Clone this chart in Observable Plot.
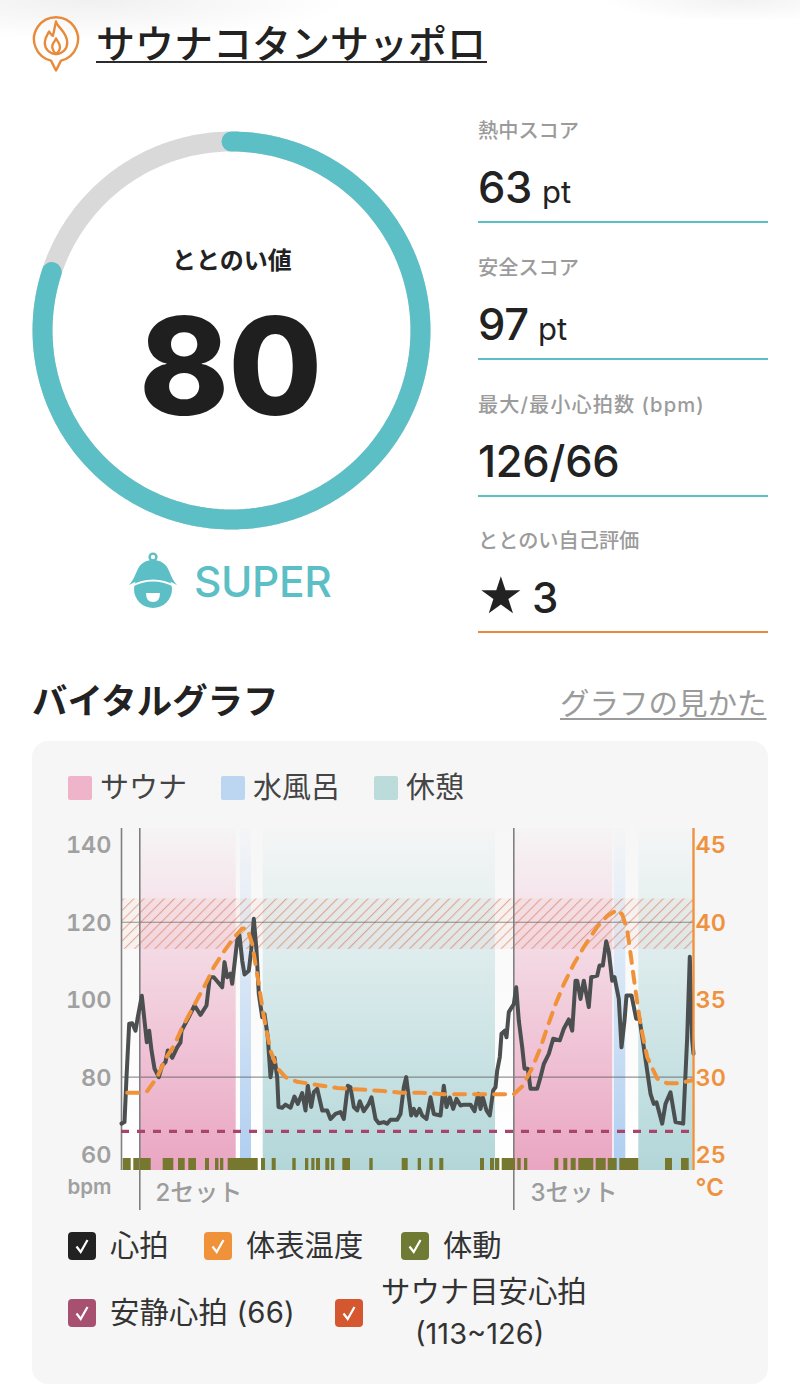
<!DOCTYPE html>
<html lang="ja">
<head>
<meta charset="utf-8">
<script src="https://cdn.jsdelivr.net/npm/d3@7"></script>
<script src="https://cdn.jsdelivr.net/npm/@observablehq/plot@0.6"></script>
<style>
html,body{margin:0;padding:0;background:#fff}
body{position:relative;width:800px;height:1390px;overflow:hidden;font-family:Inter,"Noto Sans CJK JP",sans-serif;color:#222}
.t{position:absolute;white-space:nowrap}
#stage svg{font-family:Inter,"Noto Sans CJK JP",sans-serif}
</style>
</head>
<body>
<div id="stage"></div>
<script>
// ---------- data ----------
const ringScore = 80, ringMax = 100;
const stats = [
  ["熱中スコア", "63", "pt", "#5cbfc5"],
  ["安全スコア", "97", "pt", "#5cbfc5"],
  ["最大/最小心拍数 (bpm)", "126/66", "", "#5cbfc5"],
  ["ととのい自己評価", "3", "", "#e98a3a"]
];
const leftTicks = [60, 80, 100, 120, 140];
const gridValues = [80, 120];
const restHR = 66, zoneLow = 113, zoneHigh = 126;
const setStarts = [{t: 18.3, label: "2セット", lx: 34}, {t: 392.3, label: "3セット", lx: 409}];
const sauna = [[19, 114.7], [392.3, 491.3]];
const cold = [[119, 130], [492.7, 504.3]];
const rest = [[0, 1], [141.7, 374], [517.3, 571.5]];
const hrT = [0,3,5,7.7,10.7,14,16.3,20.3,23,25.3,27.7,30,33,37.3,40.7,44,46.3,50.7,55.7,59,60,67.3,73,79,85,88.3,92.3,100.7,103,105.7,109,110.7,115.7,118,120.7,123,127.3,129.7,132.3,135,137.3,140.7,143,146.3,149,151.7,153,155.7,157,160.7,164,169,173,176.3,180.7,184,186.3,189.7,192.3,195.7,200.7,205.7,209,214,219,222.3,226.3,229,232.3,235.7,238.3,242.3,247.3,250,254,257.3,262.3,265.7,269,275.7,279,282.3,284.7,287.3,289.7,292.3,294.7,298,300.7,305,309,312.3,319,322.3,325,328.3,331.7,335,339,342.3,349,353,356.7,359,361.3,365,368.3,371.7,374,375.7,378.3,380,383.3,385,387.3,392.3,394.7,397.3,400.7,403,406.3,409,415.7,419,422.3,427.3,431.7,438.3,442.3,447.3,450.7,454,455.7,459,462.3,467.3,469.7,475.7,478,481.3,484.7,487.3,490.7,493,497.3,500,503,505,510,514.7,518,522.3,529,532.3,535,540.7,544,549,554,561.7,565.7,568.3,570.7,572];
const hrV = [68,68.4,80,93.8,93.9,92,95.5,101,94.6,89,92,86.9,82.2,80,83,83.9,86.9,85,87.7,89,92,95.5,98.5,96.1,98.5,105.8,105.8,103.2,109.7,105.8,106.7,104.1,115.3,116.6,110.1,106.5,107.5,112.7,120.9,112.7,101.5,95.5,96.3,90.3,80,84.3,85,80,72.3,72.1,72.9,72.1,75,73.1,75.9,71.4,77.8,72.3,76.1,77,71.4,71.4,69.2,70.5,71,69.2,77.8,77.4,72.3,71.4,73.8,71.2,73.1,74.8,69.2,68.1,68.4,68,69,69,70.5,77.4,80,74.8,70.1,71.8,70.1,71.8,70.1,69.2,74.8,70.5,70.1,77.8,72.3,74.7,71.8,74.4,72.7,72.9,72.9,71.2,75.7,71.8,74.8,71.4,70.1,76.6,77.4,81.7,85.2,91.2,92,90.3,96.8,98.9,103.2,94.6,87.7,82.2,82.2,77,77,80,83.4,86,89.9,89.5,92.5,94.9,92,104.9,104.9,100.2,104.9,98.1,105.8,106.2,108.8,108.8,115.1,112.3,104.9,105.8,100.2,87.7,94.6,101.1,101.1,95.1,95.1,87.7,75.7,73.1,73.5,68,73.1,76.1,68.4,68,90.3,111.1,89.5,86];
const tempT = [5.7,17.3,25.7,35.7,44,52.3,60.7,72.3,84,92.3,102.3,112.3,120.7,125.7,130.7,137.3,142.3,149,155.7,164,175.7,195.7,215.7,239,262.3,279,299,322.3,349,392.3,400.7,410.7,419,425.7,434,442.3,452.3,462.3,475.7,485.7,495.7,500.7,505.7,509,514,519,525.7,535.7,545.7,557.3,570.7];
const tempV = [29,29,29.1,30,31.2,32,33.2,34.6,36,37.1,38.1,39,39.6,39.6,38.6,36,33.9,31.7,30.6,30,29.7,29.5,29.3,29.2,29.1,29,29,28.9,28.9,28.9,29.4,30.6,31.9,33.2,34.7,36,37.3,38.4,39.7,40.4,40.8,40.5,39.5,38,35.6,33.4,31.3,29.9,29.6,29.6,29.8];
const moveSpans = [[1.7,9.7],[12.3,18],[19,29.7],[41.7,52.3],[57,63.7],[67.3,75],[84,88],[94,97.5],[99,102.3],[106.7,136.7],[140,144],[150.7,154.7],[171.3,174.7],[184,187.3],[190.3,193.5],[195,199],[204.3,208.3],[210,213.3],[221.3,229],[248.3,251.7],[280.7,286.7],[296.7,300],[308.3,311.7],[318.3,322.3],[359,363],[369,373],[374,378.3],[380.7,394],[396.3,399.7],[403,406.3],[433.3,437.3],[442.3,446.3],[449.7,454.7],[457.3,472.3],[474.7,484.7],[486.7,495.7],[498.3,517.3],[544,551],[560,567.7]];
const topLegend = [["サウナ", "#efb4ca", 68, 100], ["水風呂", "#bcd6f1", 221, 253], ["休憩", "#bcdcdc", 374, 406]];
const checks = [
  ["心拍", "#222222", 68, 110, 1246],
  ["体表温度", "#f0923a", 204, 246, 1246],
  ["体動", "#6f7a32", 401, 443, 1246],
  ["安静心拍 (66)", "#a8506f", 68, 110, 1313]
];
// ---------- helpers ----------
const stage = document.getElementById("stage");
const FONT_CJK = 'Inter,"Noto Sans CJK JP",sans-serif';
function txt(s, x, cy, size, color, weight, extra) {
  const d = document.createElement("div");
  d.className = "t";
  d.textContent = s;
  d.style.cssText = `left:${x}px;top:${cy - size}px;line-height:${size * 2}px;font-size:${size}px;color:${color};font-weight:${weight};${extra || ""}`;
  stage.appendChild(d);
  return d;
}
function rawSvg(markup) {
  const w = document.createElement("div");
  w.innerHTML = markup;
  stage.appendChild(w.firstElementChild);
}
function checkBox(color, x, cy) {
  rawSvg(`<svg style="position:absolute;left:${x}px;top:${cy - 14}px" width="28" height="28"><rect width="28" height="28" rx="4" fill="${color}"/><path d="M8.5 14.5 L12.7 20 L19.5 8" fill="none" stroke="#fff" stroke-width="2.2"/></svg>`);
}
// ---------- top shadows, panel ----------
const sh = document.createElement("div");
sh.style.cssText = "position:absolute;left:0;top:0;width:800px;height:60px;background:radial-gradient(ellipse 260px 40px at 90px 0,rgba(0,0,0,.06),rgba(0,0,0,0)),radial-gradient(ellipse 140px 22px at 740px 0,rgba(0,0,0,.05),rgba(0,0,0,0))";
stage.appendChild(sh);
const panel = document.createElement("div");
panel.style.cssText = "position:absolute;left:32px;top:741px;width:736px;height:643px;border-radius:16px;background:#f6f6f6";
stage.appendChild(panel);
// ---------- header ----------
rawSvg(`<svg style="position:absolute;left:30px;top:15px" width="52" height="60" fill="none" stroke="#e98a3a" stroke-width="2.4" stroke-linejoin="round" stroke-linecap="round">
<path d="M21 45.6 A22 22 0 1 1 31 45.6 L26 55.5 Z"/>
<g transform="translate(26 24) scale(1.25) translate(-26 -24)">
<path d="M26 10 C27 15 35 18 35 27 C35 32 31 36 26 36 C21 36 17 32 17 27 C17 23 19 21 20.5 18 C21.5 20 22.5 21 23.5 21.5 C24.5 18 25 14 26 10 Z" stroke-width="1.9"/>
<path d="M26 36 C23 33 22 30 24 27 C25 26 25.5 25 26 23.5 C27 26 30 28 29 32 C28.5 34 27.5 35 26 36" stroke-width="1.9"/></g></svg>`);
txt("サウナコタンサッポロ", 96, 44, 39, "#222", 500);
const ul = document.createElement("div");
ul.style.cssText = "position:absolute;left:96px;top:61px;width:391px;height:2px;background:#2b2b2b";
stage.appendChild(ul);
// ---------- gauge ----------
const R = 189;
const arcPts = (from, to) => d3.range(from, to + 0.001, 2).map(a => ({x: R * Math.sin(a * Math.PI / 180), y: R * Math.cos(a * Math.PI / 180)}));
const gauge = Plot.plot({
  width: 398, height: 398, margin: 0,
  x: {domain: [-199, 199], axis: null}, y: {domain: [-199, 199], axis: null},
  style: {background: "transparent"},
  marks: [
    Plot.line(arcPts(0, 360), {x: "x", y: "y", stroke: "#d9d9d9", strokeWidth: 20}),
    Plot.line(arcPts(0, 360 * ringScore / ringMax), {x: "x", y: "y", stroke: "#5cbfc5", strokeWidth: 20, strokeLinecap: "round"})
  ]
});
gauge.style.cssText += ";position:absolute;left:32px;top:130.5px;overflow:visible";
stage.appendChild(gauge);
txt("ととのい値", 172, 261, 24, "#222", 600);
txt(String(ringScore), 139, 366, 136, "#1f1f1f", 800, "letter-spacing:-1px");
// ---------- SUPER ----------
rawSvg(`<svg style="position:absolute;left:125px;top:550px" width="56" height="62">
<circle cx="28" cy="7" r="3.4" fill="none" stroke="#5cbfc5" stroke-width="2.4"/>
<circle cx="28" cy="39" r="19" fill="#5cbfc5"/>
<path d="M4 35 C9 30 11 22 14 17 C18 11 24 10 28 10 C32 10 38 11 42 17 C45 22 47 30 52 35 C44 30.5 36 28.5 28 28.5 C20 28.5 12 30.5 4 35 Z" fill="#5cbfc5"/>
<path d="M6 36.5 C13 32.5 20 30.5 28 30.5 C36 30.5 43 32.5 50 36.5" fill="none" stroke="#fff" stroke-width="1.8"/>
<path d="M21 43 L35 43 Q35 52 28 52 Q21 52 21 43 Z" fill="#fff"/></svg>`);
txt("SUPER", 194, 581, 42.5, "#5cbfc5", 500, "letter-spacing:-.4px");
// ---------- stats ----------
const statY = [131.5, 268.5, 405.5, 541.5];
stats.forEach((s, i) => {
  const y = statY[i];
  txt(s[0], 478, y, 20.2, "#9b9b9b", 500, i === 2 ? "letter-spacing:1.05px" : "");
  if (i === 3) {
    txt("★", 478, y + 54, 51, "#222", 400, 'font-family:"DejaVu Sans"');
    txt(s[1], 532, y + 56, 42, "#222", 500);
  } else {
    txt(s[1], 478, y + 56, 43.5, "#222", 500, "letter-spacing:-.3px");
    if (s[2]) txt(s[2], i === 0 ? 542 : 538, y + 60, 31, "#222", 400);
  }
  const l = document.createElement("div");
  l.style.cssText = `position:absolute;left:478px;top:${Math.floor(y) + 90}px;width:290px;height:2px;background:${s[3]}`;
  stage.appendChild(l);
});
// ---------- section heading ----------
txt("バイタルグラフ", 32, 702, 35.4, "#222", 700);
txt("グラフの見かた", 560, 703, 29.5, "#9b9b9b", 400, "text-decoration:underline;text-underline-offset:4px");
// ---------- top legend ----------
topLegend.forEach(([name, col, bx, tx]) => {
  const b = document.createElement("div");
  b.style.cssText = `position:absolute;left:${bx}px;top:776px;width:24px;height:24px;border-radius:2px;background:${col}`;
  stage.appendChild(b);
  txt(name, tx, 788, 29, "#444", 400);
});
// ---------- vital chart ----------
const yBottom = 55.9, yTop = 144.2;
const hr = hrT.map((t, i) => ({t, v: hrV[i]}));
const temp = tempT.map((t, i) => ({t, v: 80 + (tempV[i] - 30) * 4}));
const spans = a => a.map(([a1, a2]) => ({a1, a2}));
const gradDefs = () => {
  const defs = d3.create("svg:defs");
  const grad = (id, color, o0, o1) => {
    const g = defs.append("linearGradient").attr("id", id).attr("x1", 0).attr("x2", 0).attr("y1", 0).attr("y2", 1);
    g.append("stop").attr("offset", 0).attr("stop-color", color).attr("stop-opacity", o0);
    g.append("stop").attr("offset", 1).attr("stop-color", color).attr("stop-opacity", o1);
  };
  grad("gWhite", "#ffffff", 0.05, 1);
  grad("gPink", "#e9a5c1", 0.03, 1);
  grad("gBlue", "#aecdf0", 0.03, 1);
  grad("gTeal", "#b2d6d8", 0.03, 1);
  const p = defs.append("pattern").attr("id", "hatch").attr("width", 7.2).attr("height", 7.2)
    .attr("patternUnits", "userSpaceOnUse").attr("patternTransform", "rotate(45)");
  p.append("rect").attr("width", 7.2).attr("height", 7.2).attr("fill", "#e07a50").attr("fill-opacity", 0.05);
  p.append("rect").attr("width", 1.1).attr("height", 7.2).attr("fill", "#d4572f").attr("fill-opacity", 0.45);
  return defs.node();
};
const bandMark = (arr, fill) => Plot.rect(spans(arr), {x1: "a1", x2: "a2", y1: yBottom, y2: yTop, fill});
const chart = Plot.plot({
  width: 800, height: 390,
  marginLeft: 121, marginRight: 107, marginTop: 0, marginBottom: 48,
  x: {domain: [0, 572], axis: null},
  y: {domain: [yBottom, yTop], axis: null},
  style: {background: "transparent", fontFamily: FONT_CJK, overflow: "visible"},
  marks: [
    gradDefs,
    Plot.rect([{a1: 0, a2: 572}], {x1: "a1", x2: "a2", y1: yBottom, y2: yTop, fill: "url(#gWhite)"}),
    bandMark(sauna, "url(#gPink)"),
    bandMark(cold, "url(#gBlue)"),
    bandMark(rest, "url(#gTeal)"),
    Plot.rect([{lo: zoneLow, hi: zoneHigh}], {x1: 0, x2: 572, y1: "lo", y2: "hi", fill: "url(#hatch)"}),
    Plot.ruleY(gridValues, {x1: 0, x2: 572, stroke: "#5a5a5a", strokeOpacity: 0.65, strokeWidth: 1.2}),
    Plot.ruleX([0], {y1: yBottom, y2: yTop, stroke: "#808080", strokeWidth: 1.6}),
    Plot.ruleX(setStarts, {x: "t", y1: 45.6, y2: yTop, stroke: "#808080", strokeWidth: 1.6}),
    Plot.ruleY([restHR], {x1: 0, x2: 572, stroke: "#a8456c", strokeWidth: 3.4, strokeDasharray: "8 8"}),
    Plot.rect(spans(moveSpans), {x1: "a1", x2: "a2", y1: yBottom, y2: 59, fill: "#76782f"}),
    Plot.line(hr, {x: "t", y: "v", stroke: "#4b4f50", strokeWidth: 4, strokeLinejoin: "round"}),
    Plot.line(temp, {x: "t", y: "v", stroke: "#f0923a", strokeWidth: 4, strokeDasharray: "11 9"}),
    Plot.ruleX([572], {y1: yBottom, y2: yTop, stroke: "#ee9240", strokeWidth: 2.4}),
    Plot.axisY({anchor: "left", ticks: leftTicks, tickSize: 0, tickPadding: 10, color: "#a0a0a0", fontSize: 23.5, fontWeight: 600, label: null, dy: 1}),
    Plot.axisY({anchor: "right", ticks: leftTicks, tickSize: 0, tickPadding: 2, color: "#ee9240", fontSize: 23.5, fontWeight: 600, label: null, dy: 1, tickFormat: d => (d - 80) / 4 + 30}),
    Plot.text(setStarts, {x: "lx", y: 50, text: "label", textAnchor: "start", fill: "#9c9c9c", fontSize: 24, fontWeight: 500}),
    Plot.text(["bpm"], {x: 0, y: 51.6, text: d => d, textAnchor: "end", dx: -10, fill: "#a0a0a0", fontSize: 20.5, fontWeight: 600}),
    Plot.text(["°C"], {x: 572, y: 51.3, text: d => d, textAnchor: "start", dx: 2, fill: "#ee9240", fontSize: 24, fontWeight: 600})
  ]
});
chart.style.cssText += ";position:absolute;left:0;top:828px";
stage.appendChild(chart);
// ---------- check legend ----------
checks.forEach(([name, col, bx, tx, y]) => {
  checkBox(col, bx, y);
  txt(name, tx, y, 29.3, "#333", 400, name.includes("(") ? "letter-spacing:.2px" : "");
});
checkBox("#d4572f", 335, 1313);
txt("サウナ目安心拍", 381, 1292, 29.4, "#333", 400);
txt("(113~126)", 415, 1334, 29, "#333", 400);
</script>
</body>
</html>
